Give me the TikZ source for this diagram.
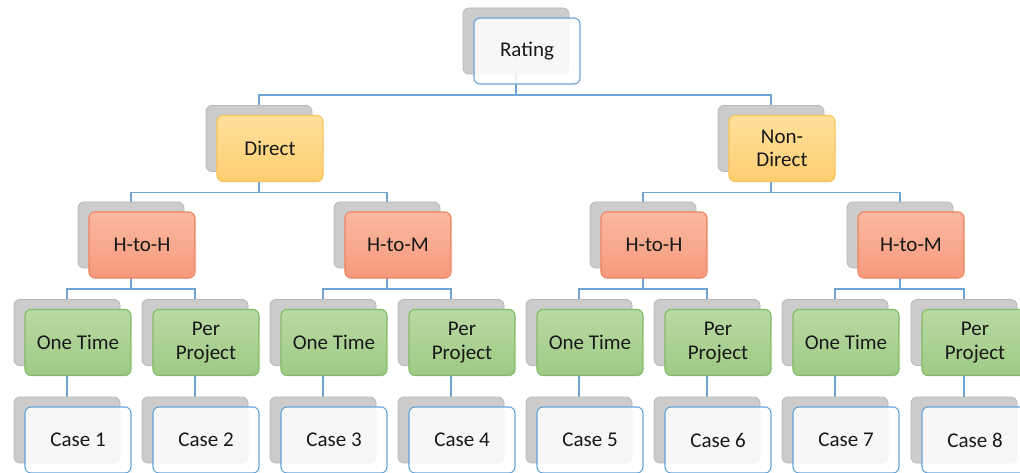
\documentclass[tikz,border=0pt]{standalone}
\usepackage{fontspec}
\setmainfont{Carlito}
\usetikzlibrary{backgrounds}

\definecolor{link}{RGB}{108,164,214}
\definecolor{backfill}{RGB}{204,204,204}
\definecolor{backedge}{RGB}{184,184,184}
\definecolor{ink}{RGB}{24,24,24}
\definecolor{blueedge}{RGB}{104,162,216}
\definecolor{orangeedge}{RGB}{248,198,88}
\definecolor{orangetop}{RGB}{255,224,158}
\definecolor{orangebot}{RGB}{255,206,112}
\definecolor{salmonedge}{RGB}{238,132,96}
\definecolor{salmontop}{RGB}{250,184,160}
\definecolor{salmonbot}{RGB}{246,154,124}
\definecolor{greenedge}{RGB}{132,186,104}
\definecolor{greentop}{RGB}{184,218,164}
\definecolor{greenbot}{RGB}{158,202,132}

\tikzset{
  x=1pt, y=-1pt,
  box/.style={rounded corners=6pt, minimum width=106pt, minimum height=66pt,
    inner sep=0pt},
  back/.style={box, draw=backedge, fill=backfill, line width=0.8pt},
  card/.style={box, line width=1.1pt, text=ink, align=center,
    font=\fontsize{21}{23.5}\selectfont},
  plaincard/.style={card, draw=blueedge, fill=white, fill opacity=0.86,
    text opacity=1},
  orangecard/.style={card, draw=orangeedge, top color=orangetop,
    bottom color=orangebot},
  salmoncard/.style={card, draw=salmonedge, top color=salmontop,
    bottom color=salmonbot},
  greencard/.style={card, draw=greenedge, top color=greentop,
    bottom color=greenbot},
  link/.style={draw=link, line width=1.1pt},
}

% gray backing shape plus the coloured card offset down and right
\newcommand\tierbox[5]{%
  \node[back] (#1b) at (#2,#3) {};
  \node[#4] (#1) at ({#2+11},{#3+10}) {#5};
}

\begin{document}
\begin{tikzpicture}
\useasboundingbox (0,0) rectangle (1020,473);
\clip (0,0) rectangle (1020,473);

% level 1
\tierbox{rating}{516}{41}{plaincard}{Rating}
% level 2
\tierbox{direct}{259}{138.5}{orangecard}{Direct}
\tierbox{nondirect}{771}{138.5}{orangecard}{Non-\\Direct}
% level 3
\tierbox{hha}{131}{235}{salmoncard}{H-to-H}
\tierbox{hma}{387}{235}{salmoncard}{H-to-M}
\tierbox{hhb}{643}{235}{salmoncard}{H-to-H}
\tierbox{hmb}{900}{235}{salmoncard}{H-to-M}
% level 4
\tierbox{ota}{67}{332.5}{greencard}{One Time}
\tierbox{ppa}{195}{332.5}{greencard}{Per\\Project}
\tierbox{otb}{323}{332.5}{greencard}{One Time}
\tierbox{ppb}{451}{332.5}{greencard}{Per\\Project}
\tierbox{otc}{579}{332.5}{greencard}{One Time}
\tierbox{ppc}{707}{332.5}{greencard}{Per\\Project}
\tierbox{otd}{835}{332.5}{greencard}{One Time}
\tierbox{ppd}{964}{332.5}{greencard}{Per\\Project}
% level 5
\tierbox{caseA}{67}{430}{plaincard}{Case 1}
\tierbox{caseB}{195}{430}{plaincard}{Case 2}
\tierbox{caseC}{323}{430}{plaincard}{Case 3}
\tierbox{caseD}{451}{430}{plaincard}{Case 4}
\tierbox{caseE}{579}{430}{plaincard}{Case 5}
\tierbox{caseF}{707}{430}{plaincard}{Case 6}
\tierbox{caseG}{835}{430}{plaincard}{Case 7}
\tierbox{caseH}{964}{430}{plaincard}{Case 8}

\begin{pgfonlayer}{background}
  % elbow connectors between levels
  \foreach \p/\c in {rating/direct, rating/nondirect,
      direct/hha, direct/hma, nondirect/hhb, nondirect/hmb,
      hha/ota, hha/ppa, hma/otb, hma/ppb,
      hhb/otc, hhb/ppc, hmb/otd, hmb/ppd}
    \draw[link] (\p b.south) -- ++(0,20.6) -| (\c b.north);
  % straight drops to the cases
  \foreach \p/\c in {ota/caseA, ppa/caseB, otb/caseC, ppb/caseD,
      otc/caseE, ppc/caseF, otd/caseG, ppd/caseH}
    \draw[link] (\p b.south) -- (\c b.north);
\end{pgfonlayer}
\end{tikzpicture}
\end{document}
